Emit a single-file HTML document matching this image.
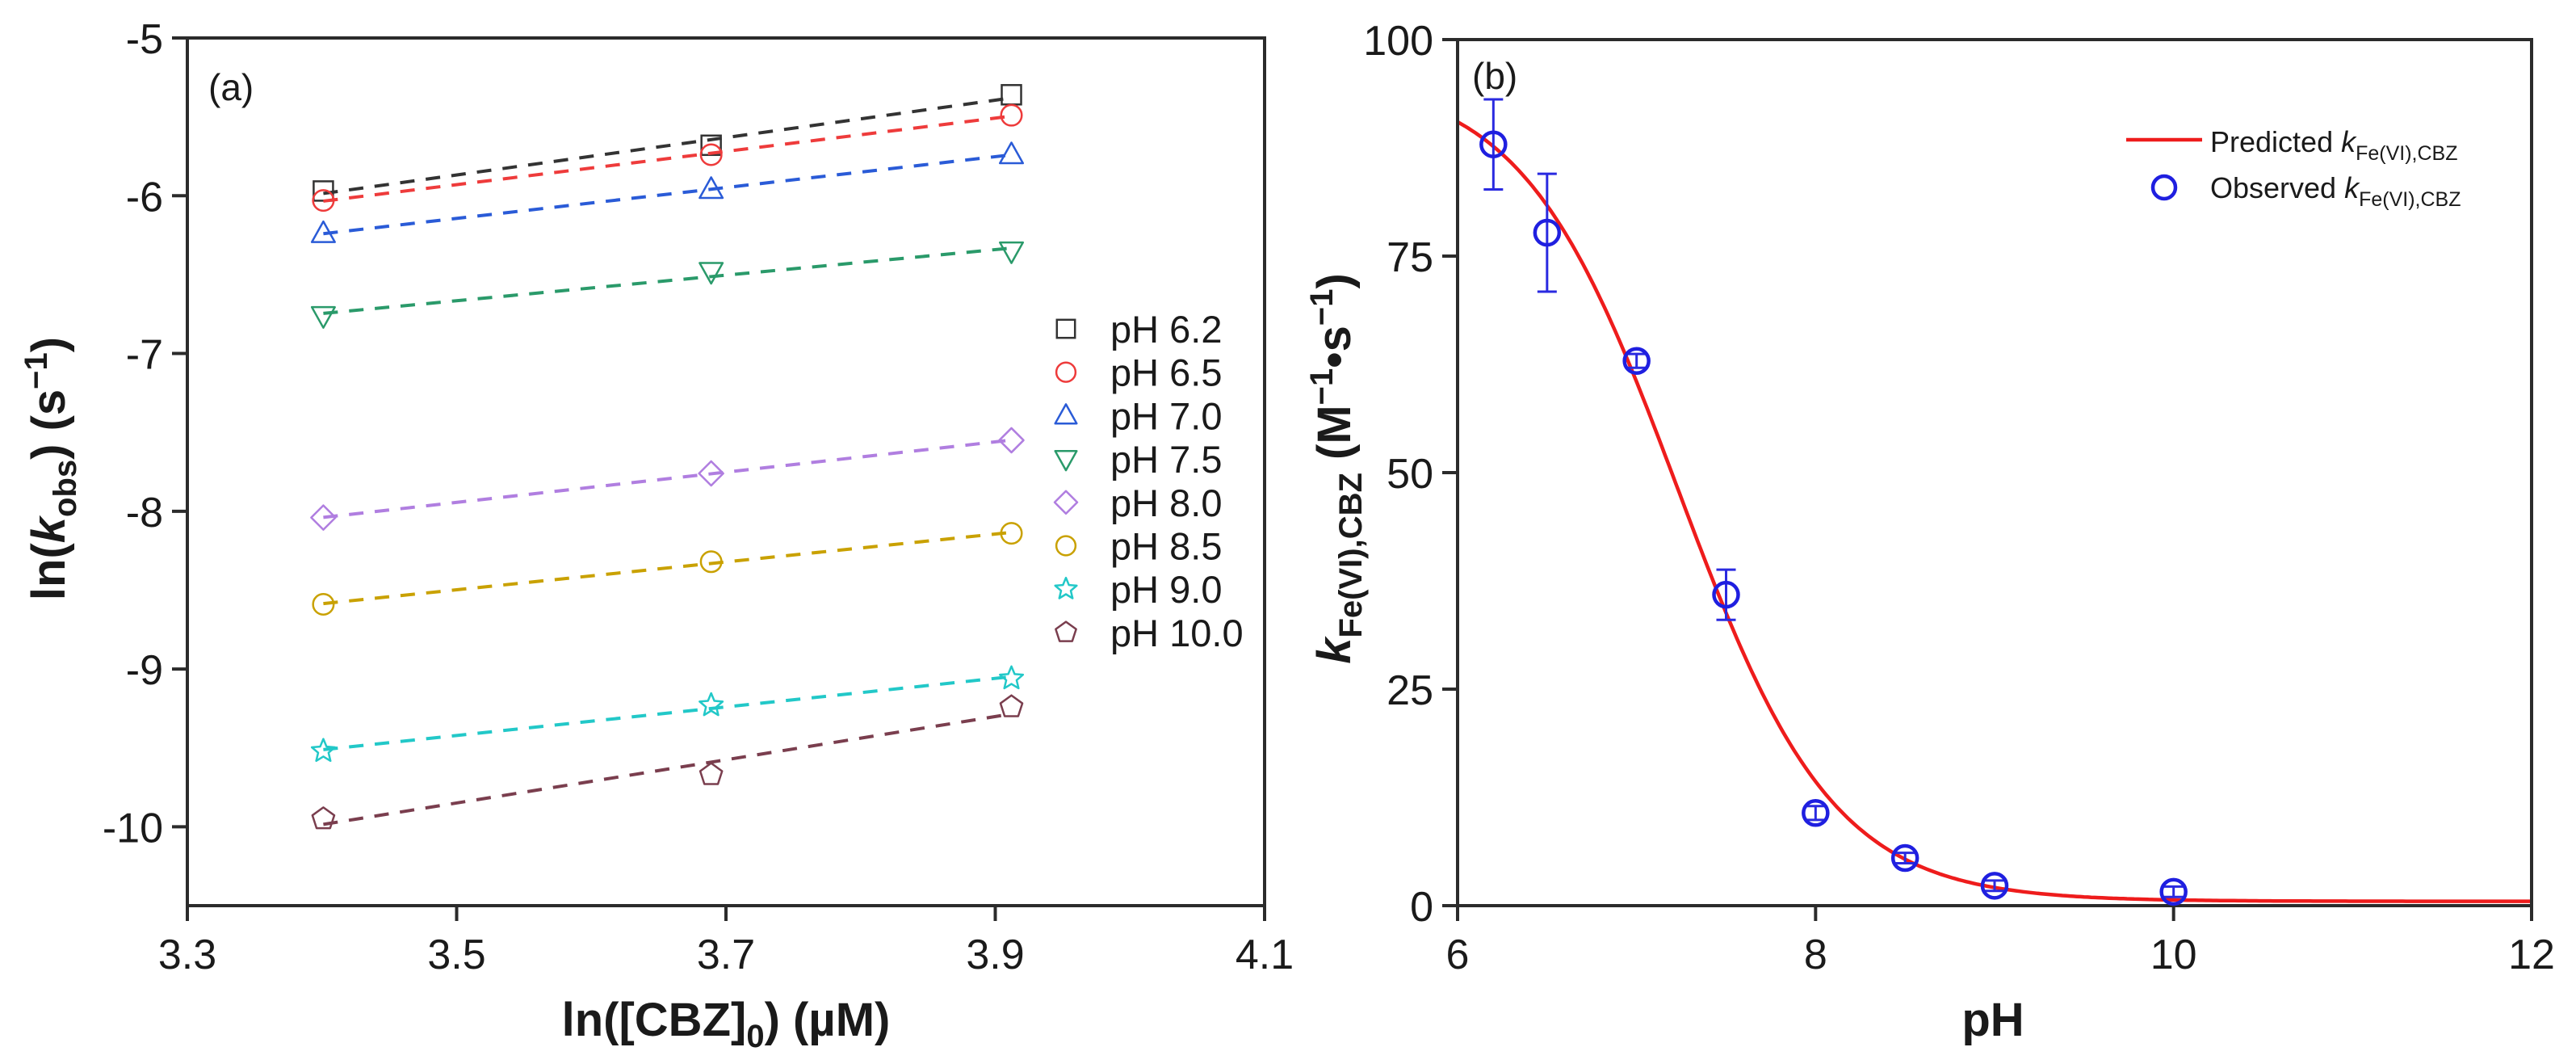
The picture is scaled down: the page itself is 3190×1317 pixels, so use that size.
<!DOCTYPE html>
<html><head><meta charset="utf-8"><style>
html,body{margin:0;padding:0;background:#fff}
svg{display:block}
text{font-family:"Liberation Sans",Arial,sans-serif;fill:#1a1a1a}
</style></head><body>
<svg id="fig" width="3190" height="1317" viewBox="0 0 3190 1317" xmlns="http://www.w3.org/2000/svg">
<rect x="0" y="0" width="3190" height="1317" fill="#fff"/>
<g id="pa"></g>
<g id="pb"></g>
</svg>
<script>
// ---------- Panel (a) data ----------
const xConc = [3.401, 3.689, 3.912];
const seriesNames = ["pH 6.2","pH 6.5","pH 7.0","pH 7.5","pH 8.0","pH 8.5","pH 9.0","pH 10.0"];
const s62 = [-5.97, -5.68, -5.36];
const s65 = [-6.03, -5.74, -5.49];
const s70 = [-6.24, -5.96, -5.74];
const s75 = [-6.76, -6.48, -6.35];
const s80 = [-8.04, -7.76, -7.55];
const s85 = [-8.59, -8.32, -8.14];
const s90 = [-9.52, -9.23, -9.06];
const s100 = [-9.95, -9.67, -9.24];
const aXTicks = [3.3, 3.5, 3.7, 3.9, 4.1];
const aYTicks = [-5, -6, -7, -8, -9, -10];
// ---------- Panel (b) data ----------
const phObs = [6.2, 6.5, 7.0, 7.5, 8.0, 8.5, 9.0, 10.0];
const kObs = [87.9, 77.7, 62.9, 35.9, 10.7, 5.5, 2.3, 1.6];
const kErr = [5.2, 6.8, 0.8, 2.9, 0.8, 0.6, 0.6, 0.6];
const bXTicks = [6, 8, 10, 12];
const bYTicks = [0, 25, 50, 75, 100];
const kHFe = 95.3, pKa = 7.23, kBase = 0.5;

const NS = "http://www.w3.org/2000/svg";
function mk(parent, tag, attrs, txt){
  const e = document.createElementNS(NS, tag);
  for (const k in attrs) e.setAttribute(k, attrs[k]);
  if (txt !== undefined) e.textContent = txt;
  parent.appendChild(e); return e;
}
const AX = "#2b2b2b";

// ===== Panel A =====
const pa = document.getElementById("pa");
const aL=232, aR=1566, aT=47, aB=1121;
const ax = v => aL + (v-3.3)/(4.1-3.3)*(aR-aL);
const ay = v => aT + (-5-v)/5.5*(aB-aT);

aXTicks.forEach(t=>{
  const tk = mk(pa,"line",{x1:ax(t),x2:ax(t),y1:aB,y2:aB+19,stroke:AX,"stroke-width":4});
  
  
  const lb = mk(pa,"text",{x:ax(t),y:1199,"font-size":52,"text-anchor":"middle"},t.toFixed(1));
  
  
});
aYTicks.forEach(t=>{
  const tk = mk(pa,"line",{x1:aL-19,x2:aL,y1:ay(t),y2:ay(t),stroke:AX,"stroke-width":4});
  
  
  const lb = mk(pa,"text",{x:aL-30,y:ay(t)+19,"font-size":52,"text-anchor":"end"},String(t));
  
  
});
const boxA = mk(pa,"rect",{x:aL,y:aT,width:aR-aL,height:aB-aT,fill:"none",stroke:AX,"stroke-width":4});



const colors = ["#333333","#ee3b3b","#2a5bd7","#2a9a6a","#b07ee0","#c9a100","#22c8c8","#7a3e4e"];
const shapes = ["square","circle","tri","itri","diamond","circle","star","pent"];
const allS = [s62,s65,s70,s75,s80,s85,s90,s100];

function marker(g, shape, cx, cy, r, col, sw){
  let e;
  if (shape==="square") e = mk(g,"rect",{x:cx-r*0.8,y:cy-r*0.8,width:r*1.6,height:r*1.6,fill:"none",stroke:col,"stroke-width":sw});
  else if (shape==="circle") e = mk(g,"circle",{cx:cx,cy:cy,r:r*0.85,fill:"none",stroke:col,"stroke-width":sw});
  else {
    let pts=[];
    if (shape==="tri") pts=[[0,-1],[0.95,0.7],[-0.95,0.7]];
    if (shape==="itri") pts=[[0,1],[0.95,-0.7],[-0.95,-0.7]];
    if (shape==="diamond") pts=[[0,-1],[1,0],[0,1],[-1,0]];
    if (shape==="pent") for(let i=0;i<5;i++){const a=-Math.PI/2+i*2*Math.PI/5;pts.push([Math.cos(a)*0.95,Math.sin(a)*0.95]);}
    if (shape==="star") for(let i=0;i<10;i++){const a=-Math.PI/2+i*Math.PI/5;const rr=i%2?0.45:1;pts.push([Math.cos(a)*rr,Math.sin(a)*rr]);}
    e = mk(g,"polygon",{points:pts.map(p=>(cx+p[0]*r)+","+(cy+p[1]*r)).join(" "),fill:"none",stroke:col,"stroke-width":sw,"stroke-linejoin":"round"});
  }
  return e;
}

allS.forEach((s,i)=>{
  const g = mk(pa,"g",{});
  
  
  const n=xConc.length; let mx=0,my=0; for(let j=0;j<n;j++){mx+=xConc[j];my+=s[j];} mx/=n; my/=n;
  let sxy=0,sxx=0; for(let j=0;j<n;j++){sxy+=(xConc[j]-mx)*(s[j]-my);sxx+=(xConc[j]-mx)**2;}
  const b=sxy/sxx, a=my-b*mx;
  const x0=xConc[0], x1=xConc[n-1];
  const fl = mk(g,"line",{x1:ax(x0),y1:ay(a+b*x0),x2:ax(x1),y2:ay(a+b*x1),stroke:colors[i],"stroke-width":4,"stroke-dasharray":"18 14"});
  
  
  s.forEach((v,j)=>{
    const m = marker(g, shapes[i], ax(xConc[j]), ay(v), 15, colors[i], 2.5);
    
    
  });
  const ly = 407 + i*53.7;
  const lm = marker(pa, shapes[i], 1320, ly, 14, colors[i], 2.5);
  
  
  const lt = mk(pa,"text",{x:1375,y:ly+17,"font-size":47},seriesNames[i]);
  
  
});

const la = mk(pa,"text",{x:258,y:124,"font-size":46},"(a)");



const xtA = mk(pa,"text",{x:899,y:1282,"font-size":58,"font-weight":"bold","text-anchor":"middle"});


xtA.innerHTML = 'ln([CBZ]<tspan font-size="40" dy="14">0</tspan><tspan dy="-14">) (µM)</tspan>';

const ytA = mk(pa,"text",{x:0,y:0,"font-size":58,"font-weight":"bold","text-anchor":"middle",transform:"translate(80,580) rotate(-90)"});


ytA.innerHTML = 'ln(<tspan font-style="italic">k</tspan><tspan font-size="40" dy="14">obs</tspan><tspan dy="-14">) (s</tspan><tspan font-size="40" dy="-22">−1</tspan><tspan dy="22">)</tspan>';

// ===== Panel B =====
const pb = document.getElementById("pb");
const bL=1805, bR=3135, bT=49, bB=1121;
const bx = v => bL + (v-6)/6*(bR-bL);
const by = v => bB - v/100*(bB-bT);

bXTicks.forEach(t=>{
  const tk = mk(pb,"line",{x1:bx(t),x2:bx(t),y1:bB,y2:bB+19,stroke:AX,"stroke-width":4});
  
  
  const lb = mk(pb,"text",{x:bx(t),y:1199,"font-size":52,"text-anchor":"middle"},String(t));
  
  
});
bYTicks.forEach(t=>{
  const tk = mk(pb,"line",{x1:bL-19,x2:bL,y1:by(t),y2:by(t),stroke:AX,"stroke-width":4});
  
  
  const lb = mk(pb,"text",{x:bL-30,y:by(t)+19,"font-size":52,"text-anchor":"end"},String(t));
  
  
});

let d="";
for(let p=6;p<=12.0001;p+=0.02){
  const k = kHFe/(1+Math.pow(10,p-pKa)) + kBase;
  d += (d?"L":"M")+bx(p).toFixed(1)+","+by(k).toFixed(1);
}
const curve = mk(pb,"path",{d:d,fill:"none",stroke:"#ee1c1c","stroke-width":4.5});



const boxB = mk(pb,"rect",{x:bL,y:bT,width:bR-bL,height:bB-bT,fill:"none",stroke:AX,"stroke-width":4});



phObs.forEach((p,i)=>{
  const g = mk(pb,"g",{});
  
  
  const cx=bx(p), hi=by(kObs[i]+kErr[i]), lo=by(kObs[i]-kErr[i]);
  mk(g,"line",{x1:cx,x2:cx,y1:hi,y2:lo,stroke:"#2a2ae0","stroke-width":3});
  mk(g,"line",{x1:cx-12,x2:cx+12,y1:hi,y2:hi,stroke:"#2a2ae0","stroke-width":3});
  mk(g,"line",{x1:cx-12,x2:cx+12,y1:lo,y2:lo,stroke:"#2a2ae0","stroke-width":3});
  mk(g,"circle",{cx:cx,cy:by(kObs[i]),r:15,fill:"none",stroke:"#1f1fe0","stroke-width":4.5});
});

const lb1 = mk(pb,"line",{x1:2633,x2:2727,y1:173,y2:173,stroke:"#ee1c1c","stroke-width":4.5});


const lt1 = mk(pb,"text",{x:2737,y:188,"font-size":36});


lt1.innerHTML='Predicted <tspan font-style="italic">k</tspan><tspan font-size="25" dy="10">Fe(VI),CBZ</tspan>';
const lc2 = mk(pb,"circle",{cx:2680,cy:232,r:14,fill:"none",stroke:"#1f1fe0","stroke-width":4.5});


const lt2 = mk(pb,"text",{x:2737,y:245,"font-size":36});


lt2.innerHTML='Observed <tspan font-style="italic">k</tspan><tspan font-size="25" dy="10">Fe(VI),CBZ</tspan>';

const lbB = mk(pb,"text",{x:1823,y:110,"font-size":46},"(b)");



const xtB = mk(pb,"text",{x:2468,y:1282,"font-size":58,"font-weight":"bold","text-anchor":"middle"},"pH");



const ytB = mk(pb,"text",{x:0,y:0,"font-size":58,"font-weight":"bold","text-anchor":"middle",transform:"translate(1672,580) rotate(-90)"});


ytB.innerHTML='<tspan font-style="italic">k</tspan><tspan font-size="40" dy="14">Fe(VI),CBZ</tspan><tspan dy="-14"> (M</tspan><tspan font-size="40" dy="-22">−1</tspan><tspan dy="22">•s</tspan><tspan font-size="40" dy="-22">−1</tspan><tspan dy="22">)</tspan>';
</script>
</body></html>
